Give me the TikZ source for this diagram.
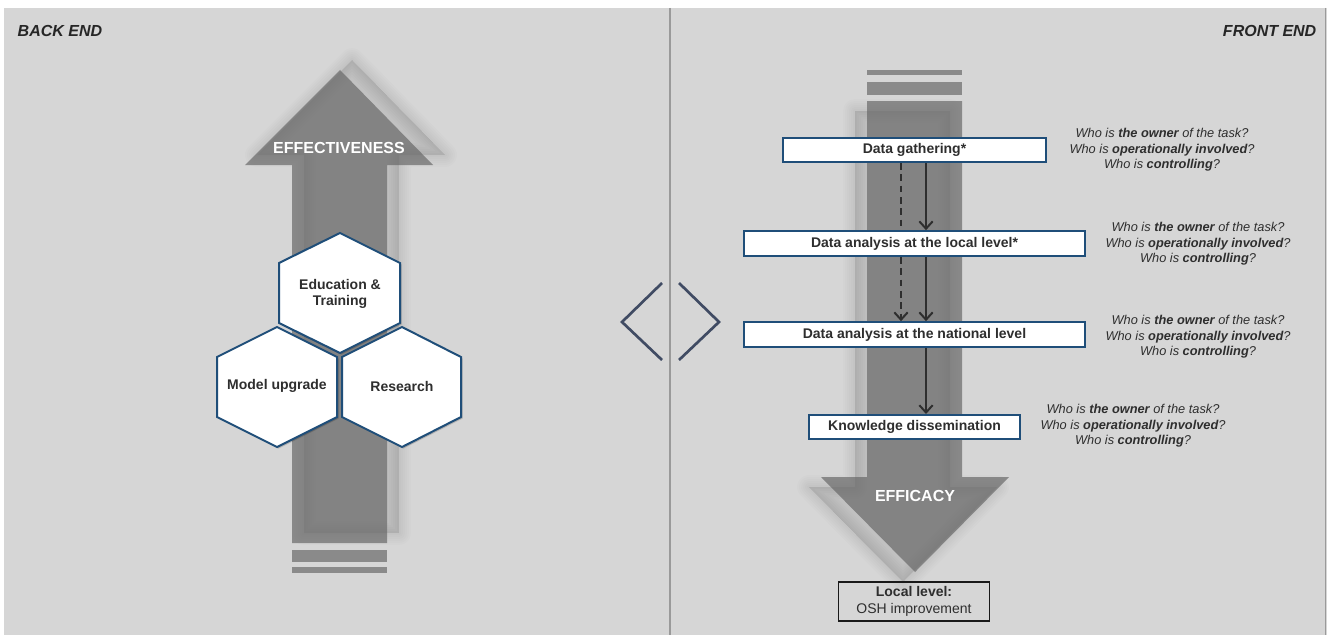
\documentclass[tikz,border=0pt]{standalone}
\usepackage{fontspec}
\setmainfont{Liberation Sans}
\usetikzlibrary{arrows.meta}
\definecolor{bg}{HTML}{D6D6D6}
\definecolor{arrowgrey}{HTML}{666666}
\definecolor{hexblue}{HTML}{1F4E79}
\definecolor{chevcol}{HTML}{404B63}
\definecolor{txt}{HTML}{2E2E2E}
\definecolor{divcol}{HTML}{9A9A9A}
\tikzset{
  leftarr/.style={insert path={(340,70) -- (433,165) -- (387,165) -- (387,543) -- (292,543) -- (292,165) -- (245,165) -- cycle}},
  rightarr/.style={insert path={(867,101) -- (962,101) -- (962,477) -- (1009,477) -- (915,572) -- (821,477) -- (867,477) -- cycle}},
  shadowlayer/.style={fill=black, fill opacity=0.012, draw=black, draw opacity=0.012, line join=round},
  arrowbody/.style={fill=arrowgrey, fill opacity=0.68},
  stripe/.style={fill=arrowgrey, fill opacity=0.68},
  hexshape/.style={draw=hexblue, fill=white, line width=1.5pt, line join=miter},
  hexlabel/.style={font=\fontsize{10.5}{12.5}\selectfont\bfseries, text=txt, align=center},
  stepbox/.style={draw=hexblue, fill=white, line width=1.5pt, font=\fontsize{10.5}{12.5}\selectfont\bfseries, text=txt, inner sep=0pt},
  qtext/.style={font=\fontsize{9.6}{11.6}\selectfont\itshape, text=txt, align=center, inner sep=0pt},
  flowarrow/.style={draw=txt, line width=1.5pt, -{Straight Barb[length=5.5pt,width=10pt]}},
  dashline/.style={draw=txt, line width=1.5pt, dash pattern=on 5pt off 3.5pt},
  chev/.style={draw=chevcol, line width=2pt},
  bigtext/.style={font=\fontsize{12}{14}\selectfont\bfseries, text=white},
  cornertext/.style={font=\fontsize{12}{14}\selectfont\bfseries\itshape, text=black!85},
}
\begin{document}
\begin{tikzpicture}[x=0.75pt,y=-0.75pt]
\useasboundingbox (0,0) rectangle (1327,635);
\fill[white] (0,0) rectangle (1327,635);
\fill[bg] (4,8) rectangle (1327,635);
\draw[divcol, line width=1.6pt] (670,8) -- (670,635);
\draw[divcol, line width=0.8pt] (1325.5,8) -- (1325.5,635);

% corner titles
\node[cornertext, anchor=west] (backend) at (13,31) {BACK END};
\node[cornertext, anchor=east] (frontend) at (1321,31) {FRONT END};

% left arrow shadow
\foreach \w in {24,20,16,12,8,4,0.5} {
  \path[shadowlayer, line width=\w*0.75pt, shift={(12,-10)}, leftarr];
}
\path[arrowbody, leftarr];
\fill[stripe] (292,550) rectangle (387,562);
\fill[stripe] (292,567) rectangle (387,573);
\node[bigtext] (effect) at (339,148) {EFFECTIVENESS};

% right arrow shadow
\foreach \w in {24,20,16,12,8,4,0.5} {
  \path[shadowlayer, line width=\w*0.75pt, shift={(-12,10)}, rightarr];
}
\path[arrowbody, rightarr];
\fill[stripe] (867,70) rectangle (962,75);
\fill[stripe] (867,82) rectangle (962,95);
\node[bigtext] (efficacy) at (915,496) {EFFICACY};

% hexagons (shadow)
\fill[black, opacity=0.18, shift={(1.5,1.5)}] (340,233) -- (400,263) -- (400,323) -- (340,353) -- (279,323) -- (279,263) -- cycle;
\fill[black, opacity=0.18, shift={(1.5,1.5)}] (277,327) -- (337,357) -- (337,417) -- (277,447) -- (217,417) -- (217,357) -- cycle;
\fill[black, opacity=0.18, shift={(1.5,1.5)}] (402,327) -- (461,357) -- (461,417) -- (402,447) -- (342,417) -- (342,357) -- cycle;
\draw[hexshape] (340,233) -- (400,263) -- (400,323) -- (340,353) -- (279,323) -- (279,263) -- cycle;
\draw[hexshape] (277,327) -- (337,357) -- (337,417) -- (277,447) -- (217,417) -- (217,357) -- cycle;
\draw[hexshape] (402,327) -- (461,357) -- (461,417) -- (402,447) -- (342,417) -- (342,357) -- cycle;
\node[hexlabel] (edu) at (340,294) {Education \&\\Training};
\node[hexlabel] (model) at (277,386) {Model upgrade};
\node[hexlabel] (research) at (402,386) {Research};

% chevrons
\draw[chev] (662,283) -- (622,322) -- (662,360);
\draw[chev] (679,283) -- (719,322) -- (679,360);

% process boxes
\node[stepbox, minimum width=197pt, minimum height=18pt] (gath) at (914.5,150) {Data gathering*};
\node[stepbox, minimum width=255.5pt, minimum height=18.5pt] (local) at (914.5,243.5) {Data analysis at the local level*};
\node[stepbox, minimum width=255.5pt, minimum height=18.5pt] (nat) at (914.5,334.5) {Data analysis at the national level};
\node[stepbox, minimum width=158pt, minimum height=18pt] (know) at (914.5,427) {Knowledge dissemination};
\node[draw=black!90, line width=1.2pt, minimum width=113.5pt, minimum height=29pt, align=center, inner sep=0pt, text=txt, font=\fontsize{10.5}{12.5}\selectfont] (osh) at (914,601.5) {\textbf{Local level:}\\OSH improvement};

% connectors
\coordinate (sx) at (926,0);
\coordinate (dx) at (901,0);
\draw[flowarrow] (gath.south -| sx) -- (local.north -| sx);
\draw[flowarrow] (local.south -| sx) -- (nat.north -| sx);
\draw[flowarrow] (nat.south -| sx) -- (know.north -| sx);
\draw[dashline] (gath.south -| dx) -- (local.north -| dx);
\draw[dashline, -{Straight Barb[length=5.5pt,width=10pt]}] (local.south -| dx) -- (nat.north -| dx);

% questions
\node[qtext] (q1) at (1162,150) {Who is \textbf{the owner} of the task?\\Who is \textbf{operationally involved}?\\Who is \textbf{controlling}?};
\node[qtext] (q2) at (1198,244) {Who is \textbf{the owner} of the task?\\Who is \textbf{operationally involved}?\\Who is \textbf{controlling}?};
\node[qtext] (q3) at (1198,337) {Who is \textbf{the owner} of the task?\\Who is \textbf{operationally involved}?\\Who is \textbf{controlling}?};
\node[qtext] (q4) at (1133,426) {Who is \textbf{the owner} of the task?\\Who is \textbf{operationally involved}?\\Who is \textbf{controlling}?};
\end{tikzpicture}
\end{document}
